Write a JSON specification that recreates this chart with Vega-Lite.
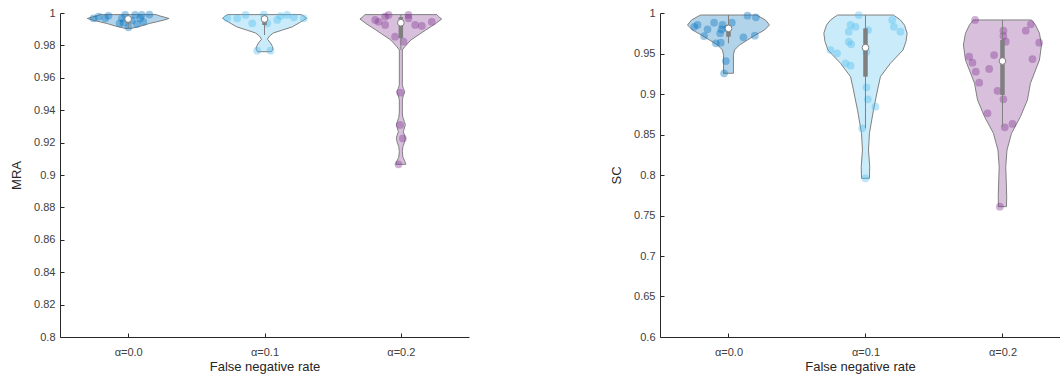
{
"$schema": "https://vega.github.io/schema/vega-lite/v6.json",
"padding": {"left": 10, "right": 0, "top": 7, "bottom": 2},
"background": "white",
"config": {
  "font": "Liberation Sans",
  "view": {"stroke": null},
  "axis": {"grid": false, "labelFontSize": 11, "titleFontSize": 13, "labelColor": "#404040", "titleColor": "#262626", "domainColor": "#262626", "tickColor": "#262626", "titleFontWeight": "normal", "tickSize": -4, "labelOverlap": false, "tickCount": 20},
  "axisX": {"labelPadding": 13, "titlePadding": 3},
  "axisY": {"labelPadding": 9, "titlePadding": 10}
},
"datasets": {
  "mra_violin": [
    {"g":"a0","v":0.9905,"lo":0.978,"hi":1.022},{"g":"a0","v":0.9915,"lo":0.927,"hi":1.073},{"g":"a0","v":0.9925,"lo":0.883,"hi":1.117},{"g":"a0","v":0.9935,"lo":0.846,"hi":1.154},{"g":"a0","v":0.9945,"lo":0.795,"hi":1.205},{"g":"a0","v":0.9955,"lo":0.744,"hi":1.256},{"g":"a0","v":0.9966,"lo":0.7,"hi":1.3},{"g":"a0","v":0.9975,"lo":0.736,"hi":1.264},{"g":"a0","v":0.9983,"lo":0.773,"hi":1.227},{"g":"a0","v":0.999,"lo":0.795,"hi":1.205},
    {"g":"a1","v":0.9761,"lo":1.949,"hi":2.051},{"g":"a1","v":0.9778,"lo":1.938,"hi":2.062},{"g":"a1","v":0.9792,"lo":1.941,"hi":2.059},{"g":"a1","v":0.9815,"lo":1.956,"hi":2.044},{"g":"a1","v":0.9838,"lo":1.978,"hi":2.022},{"g":"a1","v":0.9858,"lo":1.963,"hi":2.037},{"g":"a1","v":0.9877,"lo":1.934,"hi":2.066},{"g":"a1","v":0.9895,"lo":1.868,"hi":2.132},{"g":"a1","v":0.9915,"lo":1.795,"hi":2.205},{"g":"a1","v":0.9944,"lo":1.736,"hi":2.264},{"g":"a1","v":0.9967,"lo":1.692,"hi":2.308},{"g":"a1","v":0.9978,"lo":1.707,"hi":2.293},{"g":"a1","v":0.999,"lo":1.729,"hi":2.271},
    {"g":"a2","v":0.9066,"lo":2.963,"hi":3.037},{"g":"a2","v":0.9085,"lo":2.971,"hi":3.029},{"g":"a2","v":0.911,"lo":2.985,"hi":3.015},{"g":"a2","v":0.9145,"lo":2.989,"hi":3.011},{"g":"a2","v":0.9175,"lo":2.985,"hi":3.015},{"g":"a2","v":0.92,"lo":2.974,"hi":3.026},{"g":"a2","v":0.9228,"lo":2.967,"hi":3.033},{"g":"a2","v":0.9248,"lo":2.974,"hi":3.026},{"g":"a2","v":0.9267,"lo":2.982,"hi":3.018},{"g":"a2","v":0.929,"lo":2.974,"hi":3.026},{"g":"a2","v":0.9309,"lo":2.967,"hi":3.033},{"g":"a2","v":0.933,"lo":2.974,"hi":3.026},{"g":"a2","v":0.9355,"lo":2.985,"hi":3.015},{"g":"a2","v":0.9383,"lo":2.989,"hi":3.011},{"g":"a2","v":0.9463,"lo":2.989,"hi":3.011},{"g":"a2","v":0.949,"lo":2.982,"hi":3.018},{"g":"a2","v":0.9514,"lo":2.971,"hi":3.029},{"g":"a2","v":0.9535,"lo":2.982,"hi":3.018},{"g":"a2","v":0.9556,"lo":2.989,"hi":3.011},{"g":"a2","v":0.9772,"lo":2.989,"hi":3.011},{"g":"a2","v":0.9792,"lo":2.971,"hi":3.029},{"g":"a2","v":0.9833,"lo":2.927,"hi":3.073},{"g":"a2","v":0.9895,"lo":2.817,"hi":3.183},{"g":"a2","v":0.9935,"lo":2.744,"hi":3.256},{"g":"a2","v":0.9963,"lo":2.7,"hi":3.3},{"g":"a2","v":0.9977,"lo":2.722,"hi":3.278},{"g":"a2","v":0.999,"lo":2.736,"hi":3.264}
  ],
  "mra_pts": [
    {"g":"a0","x":0.783,"v":0.9977},{"g":"a0","x":0.856,"v":0.9983},{"g":"a0","x":0.746,"v":0.9967},{"g":"a0","x":0.954,"v":0.9967},{"g":"a0","x":0.966,"v":0.994},{"g":"a0","x":1.002,"v":0.9912},{"g":"a0","x":1.027,"v":0.9953},{"g":"a0","x":1.051,"v":0.9988},{"g":"a0","x":1.088,"v":0.9967},{"g":"a0","x":1.112,"v":0.9946},{"g":"a0","x":1.156,"v":0.999},{"g":"a0","x":1.063,"v":0.9932},{"g":"a0","x":0.937,"v":0.9936},{"g":"a0","x":0.832,"v":0.9967},{"g":"a0","x":1.1,"v":0.9988},{"g":"a0","x":0.978,"v":0.9988},
    {"g":"a1","x":1.861,"v":0.9988},{"g":"a1","x":1.8,"v":0.9967},{"g":"a1","x":1.995,"v":0.999},{"g":"a1","x":2.093,"v":0.9957},{"g":"a1","x":2.166,"v":0.9988},{"g":"a1","x":2.288,"v":0.9967},{"g":"a1","x":1.91,"v":0.9936},{"g":"a1","x":2.02,"v":0.9936},{"g":"a1","x":2.117,"v":0.9981},{"g":"a1","x":1.727,"v":0.9967},{"g":"a1","x":1.946,"v":0.9767},{"g":"a1","x":2.044,"v":0.9767},{"g":"a1","x":2.215,"v":0.9973},
    {"g":"a2","x":2.812,"v":0.9957},{"g":"a2","x":2.885,"v":0.9977},{"g":"a2","x":2.91,"v":0.9988},{"g":"a2","x":3.056,"v":0.9988},{"g":"a2","x":3.056,"v":0.9967},{"g":"a2","x":3.105,"v":0.9926},{"g":"a2","x":3.154,"v":0.992},{"g":"a2","x":3.227,"v":0.9946},{"g":"a2","x":2.885,"v":0.9926},{"g":"a2","x":2.958,"v":0.9854},{"g":"a2","x":3.02,"v":0.9823},{"g":"a2","x":2.995,"v":0.9508},{"g":"a2","x":2.995,"v":0.9309},{"g":"a2","x":3.015,"v":0.9226},{"g":"a2","x":2.983,"v":0.9066},{"g":"a2","x":2.837,"v":0.9946}
  ],
  "mra_box": [
    {"g":"a0","x":1,"med":0.9963,"q1":0.9935,"q3":0.9975,"lo":0.9906,"hi":0.999},
    {"g":"a1","x":2,"med":0.9963,"q1":0.9926,"q3":0.998,"lo":0.9864,"hi":0.999},
    {"g":"a2","x":3,"med":0.994,"q1":0.9844,"q3":0.9975,"lo":0.9772,"hi":0.999}
  ],
  "sc_violin": [
    {"g":"a0","v":0.9256,"lo":0.964,"hi":1.036},{"g":"a0","v":0.948,"lo":0.964,"hi":1.036},{"g":"a0","v":0.9543,"lo":0.956,"hi":1.044},{"g":"a0","v":0.9605,"lo":0.92,"hi":1.08},{"g":"a0","v":0.9667,"lo":0.861,"hi":1.139},{"g":"a0","v":0.9728,"lo":0.803,"hi":1.197},{"g":"a0","v":0.979,"lo":0.737,"hi":1.263},{"g":"a0","v":0.9852,"lo":0.701,"hi":1.299},{"g":"a0","v":0.9914,"lo":0.73,"hi":1.27},{"g":"a0","v":0.9975,"lo":0.796,"hi":1.204},
    {"g":"a1","v":0.7959,"lo":1.971,"hi":2.029},{"g":"a1","v":0.8102,"lo":1.969,"hi":2.031},{"g":"a1","v":0.8309,"lo":1.978,"hi":2.022},{"g":"a1","v":0.8515,"lo":1.971,"hi":2.029},{"g":"a1","v":0.88,"lo":1.942,"hi":2.058},{"g":"a1","v":0.905,"lo":1.912,"hi":2.088},{"g":"a1","v":0.9214,"lo":1.891,"hi":2.109},{"g":"a1","v":0.9379,"lo":1.818,"hi":2.182},{"g":"a1","v":0.9543,"lo":1.726,"hi":2.274},{"g":"a1","v":0.965,"lo":1.704,"hi":2.296},{"g":"a1","v":0.975,"lo":1.696,"hi":2.304},{"g":"a1","v":0.985,"lo":1.715,"hi":2.285},{"g":"a1","v":0.9914,"lo":1.745,"hi":2.255},{"g":"a1","v":0.9975,"lo":1.796,"hi":2.204},
    {"g":"a2","v":0.7609,"lo":2.971,"hi":3.029},{"g":"a2","v":0.7732,"lo":2.969,"hi":3.031},{"g":"a2","v":0.8102,"lo":2.976,"hi":3.024},{"g":"a2","v":0.8309,"lo":2.967,"hi":3.033},{"g":"a2","v":0.8515,"lo":2.934,"hi":3.066},{"g":"a2","v":0.872,"lo":2.869,"hi":3.131},{"g":"a2","v":0.8926,"lo":2.818,"hi":3.182},{"g":"a2","v":0.9132,"lo":2.796,"hi":3.204},{"g":"a2","v":0.942,"lo":2.73,"hi":3.27},{"g":"a2","v":0.9605,"lo":2.715,"hi":3.285},{"g":"a2","v":0.975,"lo":2.73,"hi":3.27},{"g":"a2","v":0.9852,"lo":2.759,"hi":3.241},{"g":"a2","v":0.9914,"lo":2.788,"hi":3.212}
  ],
  "sc_pts": [
    {"g":"a0","x":0.774,"v":0.9852},{"g":"a0","x":0.75,"v":0.983},{"g":"a0","x":0.895,"v":0.988},{"g":"a0","x":0.847,"v":0.9798},{"g":"a0","x":0.956,"v":0.9852},{"g":"a0","x":0.949,"v":0.9798},{"g":"a0","x":0.939,"v":0.975},{"g":"a0","x":0.822,"v":0.9716},{"g":"a0","x":0.908,"v":0.9626},{"g":"a0","x":0.944,"v":0.9633},{"g":"a0","x":1.024,"v":0.988},{"g":"a0","x":1.139,"v":0.9967},{"g":"a0","x":1.2,"v":0.9947},{"g":"a0","x":1.109,"v":0.97},{"g":"a0","x":1.192,"v":0.972},{"g":"a0","x":0.981,"v":0.9407},{"g":"a0","x":0.968,"v":0.9256},{"g":"a0","x":0.993,"v":0.981},
    {"g":"a1","x":1.951,"v":0.9975},{"g":"a1","x":1.891,"v":0.9852},{"g":"a1","x":1.927,"v":0.983},{"g":"a1","x":1.878,"v":0.977},{"g":"a1","x":2.019,"v":0.979},{"g":"a1","x":2.195,"v":0.9914},{"g":"a1","x":2.207,"v":0.983},{"g":"a1","x":2.255,"v":0.977},{"g":"a1","x":1.878,"v":0.9646},{"g":"a1","x":1.896,"v":0.9613},{"g":"a1","x":1.745,"v":0.9543},{"g":"a1","x":1.793,"v":0.9502},{"g":"a1","x":1.854,"v":0.9379},{"g":"a1","x":1.891,"v":0.935},{"g":"a1","x":2.007,"v":0.9523},{"g":"a1","x":2.007,"v":0.9083},{"g":"a1","x":2.017,"v":0.8934},{"g":"a1","x":2.073,"v":0.8843},{"g":"a1","x":1.976,"v":0.8577},{"g":"a1","x":2.0,"v":0.7959},
    {"g":"a2","x":2.8,"v":0.9914},{"g":"a2","x":3.007,"v":0.9782},{"g":"a2","x":3.007,"v":0.9716},{"g":"a2","x":3.024,"v":0.9646},{"g":"a2","x":3.17,"v":0.9782},{"g":"a2","x":3.207,"v":0.986},{"g":"a2","x":3.268,"v":0.9633},{"g":"a2","x":2.757,"v":0.946},{"g":"a2","x":2.781,"v":0.9387},{"g":"a2","x":2.939,"v":0.9481},{"g":"a2","x":2.805,"v":0.9276},{"g":"a2","x":2.903,"v":0.9309},{"g":"a2","x":2.83,"v":0.914},{"g":"a2","x":2.964,"v":0.904},{"g":"a2","x":3.007,"v":0.8934},{"g":"a2","x":2.891,"v":0.8762},{"g":"a2","x":3.017,"v":0.8589},{"g":"a2","x":3.073,"v":0.863},{"g":"a2","x":2.981,"v":0.7609},{"g":"a2","x":3.219,"v":0.9432}
  ],
  "sc_box": [
    {"g":"a0","x":1,"med":0.981,"q1":0.9707,"q3":0.9852,"lo":0.9626,"hi":0.9975},
    {"g":"a1","x":2,"med":0.9572,"q1":0.9214,"q3":0.981,"lo":0.8577,"hi":0.9975},
    {"g":"a2","x":3,"med":0.9407,"q1":0.8988,"q3":0.9667,"lo":0.8593,"hi":0.9914}
  ]
},
"bounds": "flush",
"spacing": 191,
"hconcat": [
  {
    "width": 409, "height": 324,
    "layer": [
      {"data": {"name": "mra_violin"},
       "mark": {"type": "area", "orient": "horizontal", "fillOpacity": 0.3, "stroke": "#808080", "strokeWidth": 1},
       "encoding": {
         "y": {"field": "v", "type": "quantitative", "scale": {"domain": [0.8, 1], "nice": false, "zero": false}, "axis": {"title": "MRA", "values": [0.8,0.82,0.84,0.86,0.88,0.9,0.92,0.94,0.96,0.98,1], "format": "~g", "tickCount": 20}},
         "x": {"field": "lo", "type": "quantitative", "scale": {"domain": [0.5, 3.5], "nice": false, "zero": false}, "axis": {"title": "False negative rate", "values": [1,2,3], "labelExpr": "datum.value == 1 ? 'α=0.0' : datum.value == 2 ? 'α=0.1' : 'α=0.2'"}},
         "x2": {"field": "hi"},
         "color": {"field": "g", "type": "nominal", "scale": {"domain": ["a0","a1","a2"], "range": ["#0072BD","#4DBEEE","#7E2F8E"]}, "legend": null}
       }},
      {"data": {"name": "mra_pts"},
       "mark": {"type": "circle", "size": 60, "opacity": 0.38},
       "encoding": {
         "x": {"field": "x", "type": "quantitative"},
         "y": {"field": "v", "type": "quantitative"},
         "color": {"field": "g", "type": "nominal", "legend": null}
       }},
      {"data": {"name": "mra_box"},
       "mark": {"type": "rule", "color": "#808080", "strokeWidth": 1},
       "encoding": {"x": {"field": "x", "type": "quantitative"}, "y": {"field": "lo", "type": "quantitative"}, "y2": {"field": "hi"}}},
      {"data": {"name": "mra_box"},
       "mark": {"type": "rule", "color": "#7f7f7f", "strokeWidth": 4.5},
       "encoding": {"x": {"field": "x", "type": "quantitative"}, "y": {"field": "q1", "type": "quantitative"}, "y2": {"field": "q3"}}},
      {"data": {"name": "mra_box"},
       "mark": {"type": "point", "filled": true, "fill": "white", "stroke": "#808080", "strokeWidth": 1, "size": 45, "opacity": 1},
       "encoding": {"x": {"field": "x", "type": "quantitative"}, "y": {"field": "med", "type": "quantitative"}}}
    ]
  },
  {
    "width": 400, "height": 324,
    "layer": [
      {"data": {"name": "sc_violin"},
       "mark": {"type": "area", "orient": "horizontal", "fillOpacity": 0.3, "stroke": "#808080", "strokeWidth": 1},
       "encoding": {
         "y": {"field": "v", "type": "quantitative", "scale": {"domain": [0.6, 1], "nice": false, "zero": false}, "axis": {"title": "SC", "values": [0.6,0.65,0.7,0.75,0.8,0.85,0.9,0.95,1], "format": "~g", "tickCount": 20}},
         "x": {"field": "lo", "type": "quantitative", "scale": {"domain": [0.5, 3.42], "nice": false, "zero": false}, "axis": {"title": "False negative rate", "values": [1,2,3], "labelExpr": "datum.value == 1 ? 'α=0.0' : datum.value == 2 ? 'α=0.1' : 'α=0.2'"}},
         "x2": {"field": "hi"},
         "color": {"field": "g", "type": "nominal", "scale": {"domain": ["a0","a1","a2"], "range": ["#0072BD","#4DBEEE","#7E2F8E"]}, "legend": null}
       }},
      {"data": {"name": "sc_pts"},
       "mark": {"type": "circle", "size": 60, "opacity": 0.38},
       "encoding": {
         "x": {"field": "x", "type": "quantitative"},
         "y": {"field": "v", "type": "quantitative"},
         "color": {"field": "g", "type": "nominal", "legend": null}
       }},
      {"data": {"name": "sc_box"},
       "mark": {"type": "rule", "color": "#808080", "strokeWidth": 1},
       "encoding": {"x": {"field": "x", "type": "quantitative"}, "y": {"field": "lo", "type": "quantitative"}, "y2": {"field": "hi"}}},
      {"data": {"name": "sc_box"},
       "mark": {"type": "rule", "color": "#7f7f7f", "strokeWidth": 4.5},
       "encoding": {"x": {"field": "x", "type": "quantitative"}, "y": {"field": "q1", "type": "quantitative"}, "y2": {"field": "q3"}}},
      {"data": {"name": "sc_box"},
       "mark": {"type": "point", "filled": true, "fill": "white", "stroke": "#808080", "strokeWidth": 1, "size": 45, "opacity": 1},
       "encoding": {"x": {"field": "x", "type": "quantitative"}, "y": {"field": "med", "type": "quantitative"}}}
    ]
  }
],
"resolve": {"scale": {"color": "shared"}}
}
